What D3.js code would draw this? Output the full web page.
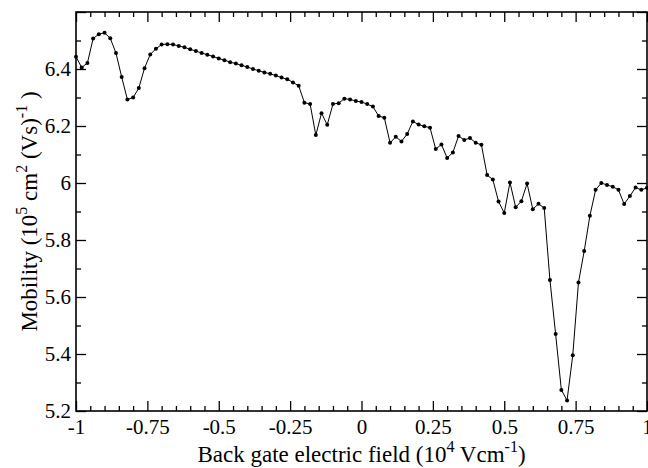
<!DOCTYPE html>
<html>
<head>
<meta charset="utf-8">
<script src="https://cdn.jsdelivr.net/npm/d3@7"></script>
<style>
  body { margin: 0; background: #fff; }
  svg { display: block; }
  text { font-family: "Liberation Serif", "Times New Roman", serif; fill: #000; }
</style>
</head>
<body>
<div class="chart"></div>
<script>
// back gate field (10^4 V/cm)
var fieldValues = [
  -1.00, -0.98, -0.96, -0.94, -0.92, -0.90, -0.88, -0.86, -0.84, -0.82,
  -0.80, -0.78, -0.76, -0.74, -0.72, -0.70, -0.68, -0.66, -0.64, -0.62,
  -0.60, -0.58, -0.56, -0.54, -0.52, -0.50, -0.48, -0.46, -0.44, -0.42,
  -0.40, -0.38, -0.36, -0.34, -0.32, -0.30, -0.28, -0.26, -0.24, -0.22,
  -0.20, -0.18, -0.16, -0.14, -0.12, -0.10, -0.08, -0.06, -0.04, -0.02,
   0.00,  0.02,  0.04,  0.06,  0.08,  0.10,  0.12,  0.14,  0.16,  0.18,
   0.20,  0.22,  0.24,  0.26,  0.28,  0.30,  0.32,  0.34,  0.36,  0.38,
   0.40,  0.42,  0.44,  0.46,  0.48,  0.50,  0.52,  0.54,  0.56,  0.58,
   0.60,  0.62,  0.64,  0.66,  0.68,  0.70,  0.72,  0.74,  0.76,  0.78,
   0.80,  0.82,  0.84,  0.86,  0.88,  0.90,  0.92,  0.94,  0.96,  0.98,
   1.00
];

// mobility (10^5 cm^2/Vs)
var mobilityValues = [
  6.443, 6.405, 6.421, 6.507, 6.522, 6.527, 6.508, 6.456, 6.372, 6.293,
  6.300, 6.333, 6.403, 6.451, 6.471, 6.486, 6.487, 6.486, 6.481, 6.476,
  6.469, 6.463, 6.456, 6.450, 6.444, 6.437, 6.431, 6.424, 6.419, 6.413,
  6.407, 6.400, 6.394, 6.388, 6.383, 6.377, 6.370, 6.364, 6.353, 6.341,
  6.282, 6.277, 6.168, 6.245, 6.204, 6.277, 6.280, 6.296, 6.293, 6.288,
  6.284, 6.277, 6.268, 6.235, 6.229, 6.141, 6.162, 6.146, 6.172, 6.216,
  6.205, 6.199, 6.194, 6.119, 6.135, 6.088, 6.107, 6.165, 6.151, 6.158,
  6.141, 6.134, 6.028, 6.012, 5.935, 5.895, 6.002, 5.915, 5.936, 5.998,
  5.908, 5.927, 5.912, 5.660, 5.470, 5.274, 5.237, 5.396, 5.651, 5.761,
  5.885, 5.976, 6.000, 5.993, 5.987, 5.976, 5.926, 5.954, 5.984, 5.976,
  5.983
];

var xTickValues = [-1, -0.75, -0.5, -0.25, 0, 0.25, 0.5, 0.75, 1];
var xTickLabels = ["-1", "-0.75", "-0.5", "-0.25", "0", "0.25", "0.5", "0.75", "1"];
var xMinorTicks = [-0.95, -0.9, -0.85, -0.8, -0.7, -0.65, -0.6, -0.55, -0.45, -0.4, -0.35, -0.3,
  -0.2, -0.15, -0.1, -0.05, 0.05, 0.1, 0.15, 0.2, 0.3, 0.35, 0.4, 0.45,
  0.55, 0.6, 0.65, 0.7, 0.8, 0.85, 0.9, 0.95];
var yTickValues = [5.2, 5.4, 5.6, 5.8, 6.0, 6.2, 6.4, 6.6];
var yTickLabels = ["5.2", "5.4", "5.6", "5.8", "6", "6.2", "6.4", ""];
var yMinorTicks = [5.3, 5.5, 5.7, 5.9, 6.1, 6.3, 6.5];

var width = 648, height = 468;
var margin = {top: 12, right: 1, bottom: 57, left: 76};
var plotW = width - margin.left - margin.right;
var plotH = height - margin.top - margin.bottom;

var svg = d3.select(".chart").append("svg")
  .attr("width", width)
  .attr("height", height);

var g = svg.append("g").attr("transform", "translate(" + margin.left + "," + margin.top + ")");

var x = d3.scaleLinear().domain([-1, 1]).range([0, plotW]);
var y = d3.scaleLinear().domain([5.2, 6.6]).range([plotH, 0]);

function styleAxis(sel) {
  sel.select(".domain").remove();
  sel.selectAll(".tick line").attr("stroke", "#000").attr("stroke-width", 1.3);
}

// bottom
g.append("g").attr("transform", "translate(0," + plotH + ")")
  .call(d3.axisBottom(x).tickValues(xTickValues).tickSize(-10).tickPadding(8)
    .tickFormat(function(d, i) { return xTickLabels[i]; }))
  .call(styleAxis)
  .selectAll("text").attr("font-size", 21).attr("font-family", "Liberation Serif");
g.append("g").attr("transform", "translate(0," + plotH + ")")
  .call(d3.axisBottom(x).tickValues(xMinorTicks).tickSize(-5).tickFormat(""))
  .call(styleAxis);
// top
g.append("g")
  .call(d3.axisTop(x).tickValues(xTickValues).tickSize(-10).tickFormat(""))
  .call(styleAxis);
g.append("g")
  .call(d3.axisTop(x).tickValues(xMinorTicks).tickSize(-5).tickFormat(""))
  .call(styleAxis);
// left
g.append("g")
  .call(d3.axisLeft(y).tickValues(yTickValues).tickSize(-10).tickPadding(5)
    .tickFormat(function(d, i) { return yTickLabels[i]; }))
  .call(styleAxis)
  .selectAll("text").attr("font-size", 21).attr("font-family", "Liberation Serif");
g.append("g")
  .call(d3.axisLeft(y).tickValues(yMinorTicks).tickSize(-5).tickFormat(""))
  .call(styleAxis);
// right
g.append("g").attr("transform", "translate(" + plotW + ",0)")
  .call(d3.axisRight(y).tickValues(yTickValues).tickSize(-10).tickFormat(""))
  .call(styleAxis);
g.append("g").attr("transform", "translate(" + plotW + ",0)")
  .call(d3.axisRight(y).tickValues(yMinorTicks).tickSize(-5).tickFormat(""))
  .call(styleAxis);

// frame
g.append("rect")
  .attr("width", plotW).attr("height", plotH)
  .attr("fill", "none").attr("stroke", "#000").attr("stroke-width", 1.6);

var points = fieldValues.map(function(v, i) { return [v, mobilityValues[i]]; });

var line = d3.line()
  .x(function(d) { return x(d[0]); })
  .y(function(d) { return y(d[1]); });

g.append("path").datum(points)
  .attr("d", line)
  .attr("fill", "none")
  .attr("stroke", "#000")
  .attr("stroke-width", 1);

g.selectAll("circle.pt").data(points).enter().append("circle")
  .attr("class", "pt")
  .attr("cx", function(d) { return x(d[0]); })
  .attr("cy", function(d) { return y(d[1]); })
  .attr("r", 2)
  .attr("fill", "#000");

// x axis title
var xt = svg.append("text")
  .attr("x", margin.left + plotW / 2)
  .attr("y", 462)
  .attr("text-anchor", "middle")
  .attr("font-size", 23);
xt.append("tspan").text("Back gate electric field (10");
xt.append("tspan").attr("dy", -10).attr("font-size", 16).text("4");
xt.append("tspan").attr("dy", 10).text(" Vcm");
xt.append("tspan").attr("dy", -10).attr("font-size", 16).text("-1");
xt.append("tspan").attr("dy", 10).text(")");

// y axis title
var yt = svg.append("text")
  .attr("transform", "translate(37," + (margin.top + plotH / 2) + ") rotate(-90)")
  .attr("text-anchor", "middle")
  .attr("font-size", 23);
yt.append("tspan").text("Mobility (10");
yt.append("tspan").attr("dy", -10).attr("font-size", 16).text("5");
yt.append("tspan").attr("dy", 10).text(" cm");
yt.append("tspan").attr("dy", -10).attr("font-size", 16).text("2");
yt.append("tspan").attr("dy", 10).text(" (Vs)");
yt.append("tspan").attr("dy", -10).attr("font-size", 16).text("-1");
yt.append("tspan").attr("dy", 10).text(" )");
</script>
</body>
</html>
